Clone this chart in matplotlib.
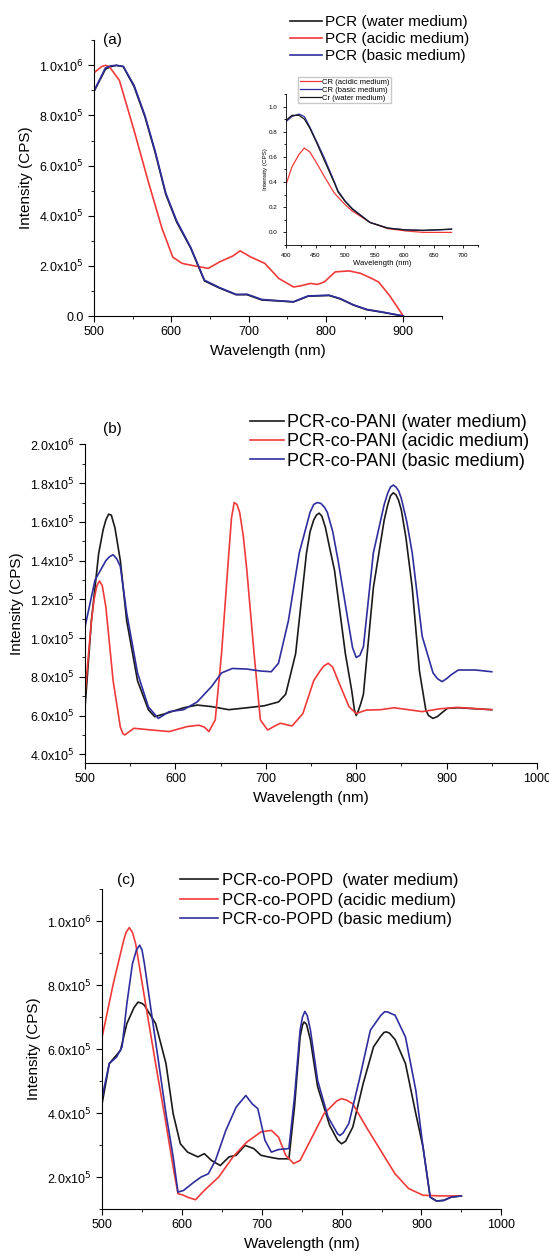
import matplotlib
matplotlib.use("Agg")
import matplotlib.pyplot as plt
from matplotlib.ticker import MultipleLocator

plt.rcParams['font.family'] = ['Liberation Sans', 'DejaVu Sans']

BLACK = '#1a1a1a'
RED = '#f03a3a'
BLUE = '#2e2e9e'

# ---- panel (a): PCR ----
a_wl_red = [500, 510, 515, 520, 533, 552, 570, 588, 602, 614, 630, 648, 662, 680, 689, 703, 721, 739,
            758, 767, 780, 789, 798, 812, 830, 845, 859, 868, 882, 900]
a_red = [0.97, 0.995, 1.0, 0.995, 0.94, 0.74, 0.54, 0.35, 0.235, 0.21, 0.20, 0.19, 0.215, 0.24, 0.26,
         0.235, 0.21, 0.15, 0.116, 0.12, 0.13, 0.126, 0.136, 0.176, 0.18, 0.17, 0.15, 0.136, 0.083, 0.0]
a_wl_blue = [500, 515, 522, 529, 538, 552, 566, 579, 593, 607, 625, 643, 662, 684, 698, 717, 739, 758,
             777, 804, 818, 836, 853, 871, 900]
a_blue = [0.897, 0.99, 0.998, 1.0, 0.996, 0.92, 0.80, 0.66, 0.49, 0.38, 0.275, 0.143, 0.114, 0.086,
          0.087, 0.066, 0.061, 0.057, 0.08, 0.083, 0.07, 0.044, 0.026, 0.017, 0.0]
a_black = [0.895, 0.985, 0.995, 1.0, 0.995, 0.915, 0.795, 0.655, 0.485, 0.375, 0.272, 0.14, 0.112,
           0.085, 0.085, 0.064, 0.06, 0.056, 0.079, 0.082, 0.069, 0.043, 0.025, 0.016, 0.0]
a_labels = ['PCR (water medium)', 'PCR (acidic medium)', 'PCR (basic medium)']

# inset: CR
in_wl = [400, 410, 422, 431, 440, 452, 464, 482, 488, 500, 512, 542, 572, 602, 632, 660, 680]
in_red = [0.38, 0.52, 0.62, 0.67, 0.64, 0.55, 0.45, 0.31, 0.28, 0.22, 0.17, 0.08, 0.03, 0.012, 0.0, 0.0, 0.0]
in_blue = [0.88, 0.92, 0.94, 0.92, 0.84, 0.72, 0.60, 0.40, 0.33, 0.25, 0.19, 0.08, 0.035, 0.02, 0.015, 0.02, 0.025]
in_black = [0.89, 0.93, 0.93, 0.90, 0.83, 0.71, 0.58, 0.39, 0.32, 0.245, 0.185, 0.078, 0.034, 0.02, 0.017, 0.022, 0.027]
in_labels = ['CR (acidic medium)', 'CR (basic medium)', 'Cr (water medium)']

# ---- panel (b): PCR-co-PANI ----
b_wl_black = [500, 507, 515, 520, 523, 526, 529, 533, 539, 546, 558, 570, 577, 589, 609, 624, 640, 659,
              679, 698, 714, 722, 733, 745, 749, 753, 756, 759, 762, 766, 770, 776, 788, 795, 798, 800,
              802, 805, 808, 819, 831, 835, 838, 841, 844, 847, 850, 855, 862, 870, 877, 880, 885, 890,
              895, 901, 913, 950]
b_black = [0.646, 1.09, 1.436, 1.56, 1.61, 1.64, 1.635, 1.57, 1.40, 1.09, 0.78, 0.63, 0.594, 0.61, 0.64,
           0.654, 0.646, 0.63, 0.64, 0.65, 0.67, 0.71, 0.92, 1.44, 1.55, 1.61, 1.635, 1.645, 1.63, 1.57,
           1.48, 1.35, 0.92, 0.73, 0.63, 0.60, 0.62, 0.66, 0.71, 1.26, 1.61, 1.69, 1.735, 1.75, 1.74,
           1.71, 1.66, 1.52, 1.26, 0.83, 0.63, 0.60, 0.585, 0.595, 0.615, 0.637, 0.64, 0.63]
b_wl_red = [500, 507, 510, 513, 516, 519, 523, 531, 539, 542, 544, 547, 554, 574, 593, 613, 626, 632,
            637, 644, 651, 659, 662, 665, 668, 671, 675, 679, 687, 694, 702, 710, 716, 729, 741, 753,
            760, 764, 769, 774, 780, 792, 800, 811, 827, 842, 858, 873, 893, 912, 950]
b_red = [0.714, 1.09, 1.20, 1.27, 1.295, 1.27, 1.16, 0.78, 0.54, 0.505, 0.50, 0.51, 0.534, 0.525, 0.517,
         0.543, 0.55, 0.54, 0.517, 0.577, 0.92, 1.435, 1.62, 1.70, 1.69, 1.65, 1.53, 1.35, 0.92, 0.577,
         0.525, 0.546, 0.56, 0.546, 0.61, 0.78, 0.83, 0.855, 0.87, 0.85, 0.78, 0.646, 0.61, 0.628, 0.63,
         0.64, 0.63, 0.62, 0.635, 0.642, 0.63]
b_wl_blue = [500, 511, 523, 527, 531, 535, 539, 546, 558, 570, 581, 593, 609, 624, 640, 651, 663, 679,
             694, 706, 714, 725, 737, 749, 753, 757, 761, 765, 768, 774, 780, 792, 796, 800, 804, 808,
             819, 831, 835, 838, 841, 844, 847, 850, 856, 862, 873, 885, 890, 895, 900, 905, 913, 932, 950]
b_blue = [1.06, 1.30, 1.40, 1.42, 1.43, 1.41, 1.37, 1.13, 0.82, 0.645, 0.585, 0.62, 0.63, 0.67, 0.75,
          0.82, 0.843, 0.84, 0.83, 0.826, 0.87, 1.09, 1.44, 1.65, 1.69, 1.70, 1.695, 1.675, 1.65, 1.55,
          1.40, 1.06, 0.95, 0.90, 0.91, 0.955, 1.44, 1.69, 1.75, 1.78, 1.79, 1.78, 1.76, 1.72, 1.60, 1.44,
          1.01, 0.82, 0.79, 0.775, 0.79, 0.81, 0.835, 0.835, 0.826]
b_labels = ['PCR-co-PANI (water medium)', 'PCR-co-PANI (acidic medium)', 'PCR-co-PANI (basic medium)']

# ---- panel (c): PCR-co-POPD ----
c_wl_black = [500, 509, 523, 531, 540, 545, 550, 553, 567, 580, 589, 598, 607, 620, 628, 637, 648, 659,
              668, 679, 690, 699, 708, 721, 734, 741, 748, 751, 753, 756, 761, 770, 785, 795, 800, 805,
              814, 827, 840, 849, 853, 856, 860, 867, 880, 893, 902, 911, 919, 928, 937, 950]
c_black = [4.3, 5.55, 5.96, 6.8, 7.3, 7.47, 7.43, 7.37, 6.8, 5.55, 3.98, 3.04, 2.78, 2.63, 2.73, 2.52,
           2.36, 2.63, 2.68, 2.99, 2.89, 2.68, 2.63, 2.57, 2.57, 4.19, 6.38, 6.75, 6.85, 6.78, 6.28, 4.82,
           3.62, 3.15, 3.04, 3.12, 3.56, 4.92, 6.07, 6.4, 6.52, 6.54, 6.5, 6.3, 5.55, 3.98, 2.94, 1.37,
           1.25, 1.27, 1.37, 1.41]
c_wl_red = [500, 514, 527, 530, 534, 538, 542, 553, 567, 580, 589, 595, 602, 607, 617, 628, 646, 664,
            681, 699, 712, 721, 730, 740, 748, 761, 778, 794, 800, 806, 814, 831, 849, 867, 884, 902, 924, 950]
c_red = [6.38, 8.05, 9.40, 9.65, 9.80, 9.65, 9.30, 7.63, 5.55, 3.67, 2.31, 1.48, 1.43, 1.37, 1.29, 1.58,
         2.0, 2.63, 3.09, 3.41, 3.46, 3.25, 2.68, 2.42, 2.52, 3.15, 3.98, 4.38, 4.45, 4.41, 4.29, 3.56,
         2.83, 2.10, 1.64, 1.43, 1.41, 1.41]
c_wl_blue = [500, 509, 518, 525, 531, 538, 543, 547, 550, 553, 562, 571, 580, 589, 595, 602, 615, 624,
             633, 642, 655, 668, 680, 688, 695, 704, 712, 721, 734, 741, 748, 751, 754, 757, 761, 770,
             783, 795, 798, 802, 809, 822, 836, 849, 854, 858, 863, 867, 880, 893, 902, 911, 919, 928,
             937, 950]
c_blue = [4.5, 5.55, 5.75, 6.07, 7.42, 8.67, 9.1, 9.25, 9.1, 8.67, 7.1, 5.55, 3.98, 2.63, 1.53, 1.58,
          1.84, 2.0, 2.1, 2.52, 3.46, 4.19, 4.55, 4.29, 4.14, 3.15, 2.78, 2.86, 2.89, 4.5, 6.59, 7.0, 7.18,
          7.05, 6.59, 5.02, 3.88, 3.35, 3.30, 3.38, 3.67, 5.02, 6.59, 7.05, 7.17, 7.16, 7.1, 7.06, 6.38,
          4.71, 2.94, 1.37, 1.25, 1.27, 1.37, 1.41]
c_labels = ['PCR-co-POPD  (water medium)', 'PCR-co-POPD (acidic medium)', 'PCR-co-POPD (basic medium)']


def style_axes(ax, fs=9):
    ax.spines['top'].set_visible(False)
    ax.spines['right'].set_visible(False)
    ax.tick_params(which='both', direction='out', labelsize=fs)
    ax.tick_params(which='major', length=4)
    ax.tick_params(which='minor', length=2.5)


LW = 1.2
fig = plt.figure(figsize=(5.49, 12.59), dpi=100)

# (a)
ax = fig.add_axes([0.171, 0.749, 0.634, 0.219])
ax.plot(a_wl_blue, [v * 1e6 for v in a_black], color=BLACK, lw=LW)
ax.plot(a_wl_red, [v * 1e6 for v in a_red], color=RED, lw=LW)
ax.plot(a_wl_blue, [v * 1e6 for v in a_blue], color=BLUE, lw=LW)
ax.set_xlim(500, 950)
ax.set_ylim(0, 1.1e6)
ax.set_xticks([500, 600, 700, 800, 900])
ax.xaxis.set_minor_locator(MultipleLocator(50))
ax.set_yticks([0, 2e5, 4e5, 6e5, 8e5, 1e6])
ax.set_yticklabels(['0.0', '2.0x10$^5$', '4.0x10$^5$', '6.0x10$^5$', '8.0x10$^5$', '1.0x10$^6$'])
ax.yaxis.set_minor_locator(MultipleLocator(1e5))
style_axes(ax)
ax.set_xlabel('Wavelength (nm)', fontsize=11)
ax.set_ylabel('Intensity (CPS)', fontsize=11)
ax.text(0.026, 1.0, '(a)', transform=ax.transAxes, fontsize=11, va='center')
h = ax.get_lines()
fig.legend(h, a_labels, loc='upper left', bbox_to_anchor=(0.528, 0.988), frameon=False,
           fontsize=11, handlelength=2.1, handletextpad=0.2, labelspacing=0.2, borderaxespad=0,
           borderpad=0)

# inset
ins = fig.add_axes([0.521, 0.8054, 0.350, 0.120])
ins.plot(in_wl, in_red, color=RED, lw=0.9)
ins.plot(in_wl, in_blue, color=BLUE, lw=0.9)
ins.plot(in_wl, in_black, color=BLACK, lw=0.9)
ins.set_xlim(400, 725)
ins.set_ylim(-0.1, 1.1)
ins.set_xticks([400, 450, 500, 550, 600, 650, 700])
ins.xaxis.set_minor_locator(MultipleLocator(25))
ins.set_yticks([0.0, 0.2, 0.4, 0.6, 0.8, 1.0])
ins.yaxis.set_minor_locator(MultipleLocator(0.1))
style_axes(ins, fs=4.5)
ins.tick_params(which='major', length=2.5, width=0.6)
ins.tick_params(which='minor', length=1.5, width=0.6)
for s in ins.spines.values():
    s.set_linewidth(0.6)
ins.set_xlabel('Wavelength (nm)', fontsize=5.5, labelpad=1)
ins.set_ylabel('Intensity (CPS)', fontsize=4.5, labelpad=1)
ins.legend(in_labels, loc='upper left', bbox_to_anchor=(0.0625, 1.113), fontsize=5.5,
           handlelength=2.8, handletextpad=0.2, labelspacing=0.1, borderpad=0.2,
           fancybox=False, edgecolor='#bbbbbb', borderaxespad=0)

# (b)
ax = fig.add_axes([0.155, 0.394, 0.823, 0.253])
ax.plot(b_wl_black, [v * 1e6 for v in b_black], color=BLACK, lw=LW)
ax.plot(b_wl_red, [v * 1e6 for v in b_red], color=RED, lw=LW)
ax.plot(b_wl_blue, [v * 1e6 for v in b_blue], color=BLUE, lw=LW)
ax.set_xlim(500, 1000)
ax.set_ylim(3.55e5, 2.0e6)
ax.set_xticks([500, 600, 700, 800, 900, 1000])
ax.xaxis.set_minor_locator(MultipleLocator(50))
b_ticks = [4e5, 6e5, 8e5, 1.0e6, 1.2e6, 1.4e6, 1.6e6, 1.8e6, 2.0e6]
ax.set_yticks(b_ticks)
ax.set_yticklabels(['4.0x10$^5$', '6.0x10$^5$', '8.0x10$^5$', '1.0x10$^5$', '1.2x10$^5$',
                    '1.4x10$^5$', '1.6x10$^5$', '1.8x10$^5$', '2.0x10$^6$'])
ax.yaxis.set_minor_locator(MultipleLocator(1e5))
style_axes(ax)
ax.set_xlabel('Wavelength (nm)', fontsize=11)
ax.set_ylabel('Intensity (CPS)', fontsize=11)
ax.text(0.04, 1.05, '(b)', transform=ax.transAxes, fontsize=11, va='center')
h = ax.get_lines()
fig.legend(h, b_labels, loc='upper left', bbox_to_anchor=(0.455, 0.671), frameon=False,
           fontsize=13, handlelength=1.9, handletextpad=0.17, labelspacing=0.12, borderaxespad=0,
           borderpad=0)

# (c)
ax = fig.add_axes([0.186, 0.0397, 0.727, 0.254])
ax.plot(c_wl_black, [v * 1e5 for v in c_black], color=BLACK, lw=LW)
ax.plot(c_wl_red, [v * 1e5 for v in c_red], color=RED, lw=LW)
ax.plot(c_wl_blue, [v * 1e5 for v in c_blue], color=BLUE, lw=LW)
ax.set_xlim(500, 1000)
ax.set_ylim(1e5, 1.1e6)
ax.set_xticks([500, 600, 700, 800, 900, 1000])
ax.xaxis.set_minor_locator(MultipleLocator(50))
ax.set_yticks([2e5, 4e5, 6e5, 8e5, 1e6])
ax.set_yticklabels(['2.0x10$^5$', '4.0x10$^5$', '6.0x10$^5$', '8.0x10$^5$', '1.0x10$^6$'])
ax.yaxis.set_minor_locator(MultipleLocator(1e5))
style_axes(ax)
ax.set_xlabel('Wavelength (nm)', fontsize=11)
ax.set_ylabel('Intensity (CPS)', fontsize=11)
ax.text(0.038, 1.03, '(c)', transform=ax.transAxes, fontsize=11, va='center')
h = ax.get_lines()
fig.legend(h, c_labels, loc='upper left', bbox_to_anchor=(0.328, 0.3065), frameon=False,
           fontsize=12, handlelength=2.3, handletextpad=0.2, labelspacing=0.27, borderaxespad=0,
           borderpad=0)

fig.savefig('out.png', dpi=100)
